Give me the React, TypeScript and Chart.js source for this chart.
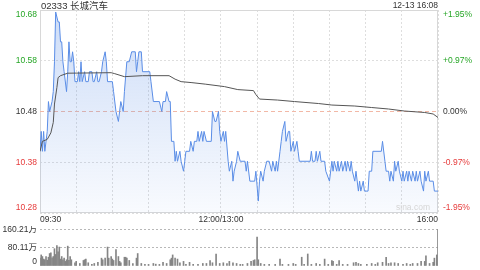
import React, { useEffect, useRef } from 'react';
import { Chart, registerables } from 'chart.js';

Chart.register(...registerables);

const stockTitle = '02333 长城汽车';
const timeStamp = '12-13 16:08';
const watermark = 'sina.com';
const prevClose = 10.48;

const priceTicks = [10.684, 10.582, 10.48, 10.378, 10.276];
const priceTickLabels = ['10.68', '10.58', '10.48', '10.38', '10.28'];
const pctTickLabels = ['+1.95%', '+0.97%', '0.00%', '-0.97%', '-1.95%'];

const timeTicks = [0, 30, 60, 90, 120, 150, 180, 210, 240, 270, 300, 330];
const timeTickLabels = ['09:30', '', '', '', '', '12:00/13:00', '', '', '', '', '', '16:00'];

const priceMinutes = [
  0, 1, 2, 3, 4, 5, 6, 7, 8, 10, 11, 12, 13, 15, 16, 17, 18, 19, 20, 22, 23, 24, 25, 26, 27, 28, 29, 31, 32, 33, 34, 35,
  37, 38, 40, 41, 43, 44, 45, 47, 48, 49, 51, 52, 54, 55, 56, 60, 61, 63, 65, 66, 67, 69, 70, 72, 74, 76, 79, 80, 81, 82,
  84, 85, 91, 92, 94, 99, 101, 102, 104, 105, 107, 108, 109, 111, 112, 113, 114, 116, 117, 119, 120, 121, 124, 125, 127,
  128, 130, 131, 132, 134, 135, 136, 138, 142, 143, 145, 146, 148, 149, 150, 152, 153, 154, 156, 157, 159, 160, 161, 163,
  164, 166, 170, 171, 172, 174, 178, 179, 181, 182, 183, 185, 186, 188, 190, 192, 193, 195, 196, 197, 199, 200, 201, 203,
  204, 206, 207, 208, 210, 211, 213, 214, 215, 224, 225, 226, 228, 229, 230, 232, 233, 236, 237, 240, 242, 243, 244, 246,
  247, 248, 250, 251, 253, 254, 255, 257, 258, 259, 261, 262, 264, 265, 266, 268, 269, 272, 273, 275, 276, 283, 284, 286,
  287, 289, 290, 291, 293, 294, 295, 297, 298, 300, 301, 302, 304, 305, 306, 308, 309, 311, 312, 313, 315, 316, 318, 319,
  320, 322, 323, 326, 327, 330,
];
const priceValues = [
  10.40, 10.44, 10.40, 10.44, 10.40, 10.42, 10.44, 10.50, 10.48, 10.50, 10.52, 10.58, 10.68, 10.66, 10.66, 10.62, 10.62,
  10.58, 10.56, 10.52, 10.56, 10.62, 10.58, 10.58, 10.60, 10.58, 10.54, 10.54, 10.56, 10.54, 10.58, 10.54,
  10.56, 10.54, 10.54, 10.56, 10.56, 10.54, 10.54, 10.56, 10.54, 10.54, 10.56, 10.58, 10.60, 10.58, 10.54, 10.54, 10.52,
  10.48, 10.46, 10.48, 10.50, 10.48, 10.52, 10.58, 10.58, 10.60, 10.60, 10.56, 10.58, 10.60,
  10.60, 10.56, 10.56, 10.54, 10.50, 10.50, 10.48, 10.50, 10.50, 10.52, 10.50, 10.50, 10.42, 10.42, 10.38, 10.40, 10.38,
  10.40, 10.38, 10.36, 10.38, 10.40, 10.40, 10.42, 10.40,
  10.42, 10.42, 10.44, 10.42, 10.44, 10.42, 10.44, 10.42, 10.42, 10.48, 10.46, 10.46, 10.48, 10.44, 10.42, 10.44, 10.42,
  10.44, 10.38, 10.36, 10.38, 10.34, 10.36, 10.38,
  10.40, 10.38, 10.38, 10.36, 10.38, 10.34, 10.34, 10.36, 10.30, 10.34, 10.36, 10.34, 10.36, 10.38, 10.38, 10.36, 10.38,
  10.36, 10.38, 10.36, 10.40, 10.42, 10.44, 10.46,
  10.42, 10.44, 10.44, 10.40, 10.42, 10.40, 10.42, 10.40, 10.38, 10.38, 10.40, 10.38, 10.38, 10.40, 10.38, 10.40, 10.38,
  10.38, 10.36, 10.34, 10.38, 10.36, 10.38, 10.36,
  10.38, 10.36, 10.38, 10.36, 10.38, 10.36, 10.38, 10.36, 10.38, 10.36, 10.34, 10.36, 10.32, 10.34, 10.32, 10.34, 10.32,
  10.32, 10.36, 10.36, 10.40, 10.40, 10.42, 10.38,
  10.36, 10.36, 10.34, 10.36, 10.34, 10.38, 10.36, 10.38, 10.36, 10.34, 10.36, 10.34, 10.36, 10.34, 10.36, 10.34, 10.36,
  10.34, 10.36, 10.34, 10.36, 10.34, 10.32, 10.36,
  10.34, 10.36, 10.34, 10.34, 10.32, 10.32,
];

const avgMinutes = [
  0, 2, 6, 9, 11, 12, 14, 15, 17, 23, 59, 62, 70, 85, 107, 112, 117, 126, 137, 153, 164, 177, 179, 182, 197, 211, 231, 242,
  261, 275, 289, 302, 319, 326, 330,
];
const avgValues = [
  10.40, 10.42, 10.424, 10.437, 10.458, 10.495, 10.528, 10.548, 10.552, 10.557, 10.558, 10.556, 10.55, 10.552, 10.552,
  10.545, 10.54, 10.538, 10.535, 10.53, 10.524, 10.522, 10.514, 10.505, 10.503, 10.50, 10.496, 10.493, 10.491, 10.488,
  10.485, 10.481, 10.478, 10.475, 10.468,
];

const volTicks = [0, 80.11, 160.21];
const volTickLabels = ['0', '80.11万', '160.21万'];

const volMinutes = [
  0, 1, 2, 3, 4, 5, 6, 7, 8, 9, 10, 11, 12, 13, 14, 15, 16, 17, 18, 19, 20, 21, 22, 23, 24, 25, 26, 29, 30, 33, 36, 37, 38,
  40, 43, 45, 48, 51, 52, 54, 56, 57, 59, 60, 61, 63, 65, 66, 67, 70, 71, 72, 74, 77, 80, 81, 84, 87, 90, 94, 96, 99, 102,
  105, 108, 109, 110, 112, 114, 116, 119, 121, 124, 127, 131, 135, 138, 141, 143, 146, 149, 152, 155, 157, 160, 163, 166,
  168, 172, 175, 177, 178, 180, 181, 183, 186, 190, 195, 199, 201, 206, 210, 212, 217, 219, 222, 225, 229, 232, 236, 239,
  242, 243, 246, 248, 251, 255, 260, 262, 264, 266, 271, 275, 278, 280, 284, 287, 289, 291, 294, 297, 301, 304, 307, 309,
  313, 316, 319, 320, 323, 326, 327, 329, 330,
];
const volValues = [
  34, 48, 41, 30, 27, 41, 25, 38, 54, 57, 35, 41, 75, 50, 88, 61, 82, 30, 41, 27, 34, 20, 27, 86, 25, 41, 27, 14, 20, 11,
  24, 27, 30, 14, 7, 11, 16, 34, 27, 34, 82, 34, 41, 30, 24, 71, 41, 20, 14, 38, 38, 34, 24, 11, 34, 54, 11, 7, 7, 11, 8,
  7, 16, 11, 27, 34, 48, 34, 30, 14, 20, 7, 16, 7, 7, 11, 11, 24, 14, 52, 11, 14, 11, 20, 14, 11, 7, 7, 11, 20, 24, 27,
  125, 27, 11, 7, 7, 7, 30, 7, 7, 11, 7, 38, 7, 52, 7, 11, 7, 30, 7, 24, 20, 7, 24, 7, 7, 14, 16, 11, 7, 7, 11, 7, 14, 16,
  38, 11, 14, 14, 11, 7, 11, 7, 11, 11, 20, 20, 44, 11, 16, 34, 48, 158,
];

const FONT = '"Liberation Sans", Arial, "Noto Sans CJK SC", sans-serif';
const GREEN = '#26a626';
const RED = '#e63b3b';
const DARK = '#333333';
const LABEL_SIZE = 8.5;

const sideLabelsPlugin = {
  id: 'sideLabels',
  afterDraw(chart: any, _args: any, opts: any) {
    if (!opts || !opts.values) return;
    const { ctx, chartArea } = chart;
    const scale = chart.scales[opts.scaleId];
    ctx.save();
    ctx.font = `${opts.fontSize || 8}px ${FONT}`;
    ctx.textBaseline = 'middle';
    opts.values.forEach((v: number, i: number) => {
      let y = scale.getPixelForValue(v);
      y = Math.max(chartArea.top + opts.topMargin, Math.min(chartArea.bottom - opts.bottomMargin, y));
      if (opts.left) {
        ctx.textAlign = 'right';
        ctx.fillStyle = opts.leftColors ? opts.leftColors[i] : DARK;
        ctx.fillText(opts.left[i], chartArea.left - 3, y);
      }
      if (opts.right) {
        ctx.textAlign = 'left';
        ctx.fillStyle = opts.rightColors ? opts.rightColors[i] : DARK;
        ctx.fillText(opts.right[i], chartArea.right + 5, y);
      }
    });
    ctx.restore();
  },
};

const framePlugin = {
  id: 'frame',
  beforeDatasetsDraw(chart: any, _args: any, opts: any) {
    if (!opts || !opts.show) return;
    const { ctx, chartArea } = chart;
    ctx.save();
    ctx.strokeStyle = '#d8d8d8';
    ctx.lineWidth = 1;
    ctx.strokeRect(chartArea.left + 0.5, chartArea.top + 0.5, chartArea.width - 1, chartArea.height - 1);
    ctx.restore();
  },
  afterDraw(chart: any, _args: any, opts: any) {
    if (!opts || !opts.show) return;
    const { ctx, chartArea } = chart;
    ctx.save();
    ctx.textBaseline = 'middle';
    ctx.fillStyle = DARK;
    ctx.font = `9.5px ${FONT}`;
    ctx.textAlign = 'left';
    ctx.fillText(stockTitle, chartArea.left + 1, 6);
    ctx.font = `${LABEL_SIZE}px ${FONT}`;
    ctx.textAlign = 'right';
    ctx.fillText(timeStamp, chartArea.right, 6);
    ctx.fillStyle = '#d6d6d6';
    ctx.font = `8.5px ${FONT}`;
    ctx.fillText(watermark, chartArea.right - 8, chartArea.bottom - 5);
    ctx.restore();
  },
};

export default function App() {
  const mainRef = useRef<HTMLCanvasElement | null>(null);
  const volRef = useRef<HTMLCanvasElement | null>(null);

  useEffect(() => {
    const priceData = priceMinutes.map((m, i) => ({ x: m, y: priceValues[i] }));
    const avgData = avgMinutes.map((m, i) => ({ x: m, y: avgValues[i] }));
    const refData = [
      { x: timeTicks[0], y: prevClose },
      { x: timeTicks[timeTicks.length - 1], y: prevClose },
    ];
    const leftColors = priceTicks.map((v) => (v > prevClose + 1e-9 ? GREEN : v < prevClose - 1e-9 ? RED : DARK));

    const main = new Chart(mainRef.current as HTMLCanvasElement, {
      type: 'line',
      data: {
        datasets: [
          {
            data: refData,
            borderColor: '#f2b8a6',
            borderWidth: 1,
            borderDash: [4, 3],
            pointRadius: 0,
            fill: false,
            order: 3,
          },
          {
            data: priceData,
            borderColor: '#5a8de6',
            borderWidth: 1,
            pointRadius: 0,
            tension: 0,
            fill: 'start',
            backgroundColor: (c: any) => {
              const { chart } = c;
              const area = chart.chartArea;
              if (!area) return 'rgba(90,141,230,0.15)';
              const g = chart.ctx.createLinearGradient(0, area.top, 0, area.bottom);
              g.addColorStop(0, 'rgba(90,141,230,0.30)');
              g.addColorStop(1, 'rgba(90,141,230,0.04)');
              return g;
            },
            order: 2,
          },
          {
            data: avgData,
            borderColor: '#555555',
            borderWidth: 1,
            pointRadius: 0,
            tension: 0,
            fill: false,
            order: 1,
          },
        ],
      },
      options: {
        animation: false,
        responsive: false,
        devicePixelRatio: 1,
        layout: { padding: { top: 10, right: 42, left: 0, bottom: 0 } },
        plugins: {
          legend: { display: false },
          tooltip: { enabled: false },
          sideLabels: {
            scaleId: 'y',
            values: priceTicks,
            left: priceTickLabels,
            leftColors,
            right: pctTickLabels,
            rightColors: leftColors,
            topMargin: 5,
            bottomMargin: 5,
            fontSize: LABEL_SIZE,
          },
          frame: { show: true },
        } as any,
        scales: {
          x: {
            type: 'linear',
            min: timeTicks[0],
            max: timeTicks[timeTicks.length - 1],
            afterBuildTicks: (s: any) => {
              s.ticks = timeTicks.map((v) => ({ value: v }));
            },
            afterFit: (s: any) => {
              s.height = 13;
            },
            grid: { color: '#dedede', drawTicks: false, lineWidth: 1 },
            border: { display: false, dash: [2, 2] },
            ticks: {
              autoSkip: false,
              maxRotation: 0,
              padding: 2,
              align: 'inner',
              color: DARK,
              font: { family: FONT, size: LABEL_SIZE },
              callback: (_v: any, i: number) => timeTickLabels[i],
            },
          },
          y: {
            type: 'linear',
            min: priceTicks[priceTicks.length - 1],
            max: priceTicks[0],
            afterBuildTicks: (s: any) => {
              s.ticks = priceTicks.map((v) => ({ value: v }));
            },
            afterFit: (s: any) => {
              s.width = 40;
            },
            grid: {
              drawTicks: false,
              color: (c: any) => {
                const v = c.tick ? c.tick.value : 0;
                if (Math.abs(v - prevClose) < 1e-6) return 'rgba(0,0,0,0)';
                return '#dedede';
              },
            },
            border: { display: false, dash: [2, 2] },
            ticks: { display: false },
          },
        },
      } as any,
      plugins: [sideLabelsPlugin, framePlugin] as any,
    });

    const volData = volMinutes.map((m, i) => ({ x: m, y: volValues[i] }));
    const vol = new Chart(volRef.current as HTMLCanvasElement, {
      type: 'bar',
      data: {
        datasets: [
          {
            data: volData,
            backgroundColor: '#858585',
            barThickness: 1,
            borderWidth: 0,
          },
        ],
      },
      options: {
        animation: false,
        responsive: false,
        devicePixelRatio: 1,
        layout: { padding: { top: 3, right: 42, left: 0, bottom: 4 } },
        plugins: {
          legend: { display: false },
          tooltip: { enabled: false },
          sideLabels: {
            scaleId: 'y',
            values: volTicks,
            left: volTickLabels,
            topMargin: 1,
            bottomMargin: 4,
            fontSize: LABEL_SIZE,
          },
        } as any,
        scales: {
          x: {
            type: 'linear',
            display: false,
            offset: false,
            min: timeTicks[0],
            max: timeTicks[timeTicks.length - 1],
          },
          y: {
            type: 'linear',
            min: volTicks[0],
            max: volTicks[volTicks.length - 1],
            afterBuildTicks: (s: any) => {
              s.ticks = volTicks.map((v) => ({ value: v }));
            },
            afterFit: (s: any) => {
              s.width = 40;
            },
            grid: {
              drawTicks: false,
              color: (c: any) => (c.tick && c.tick.value === 0 ? 'rgba(0,0,0,0)' : '#b8b8b8'),
            },
            border: { display: false, dash: [2, 2] },
            ticks: { display: false },
          },
        },
      } as any,
      plugins: [sideLabelsPlugin] as any,
    });

    return () => {
      main.destroy();
      vol.destroy();
    };
  }, []);

  return (
    <div style={{ position: 'absolute', left: 0, top: 0, width: 480, height: 270, background: '#fff' }}>
      <canvas ref={mainRef} width={480} height={226} style={{ position: 'absolute', left: 0, top: 0, width: 480, height: 226 }} />
      <canvas ref={volRef} width={480} height={44} style={{ position: 'absolute', left: 0, top: 226, width: 480, height: 44 }} />
    </div>
  );
}
